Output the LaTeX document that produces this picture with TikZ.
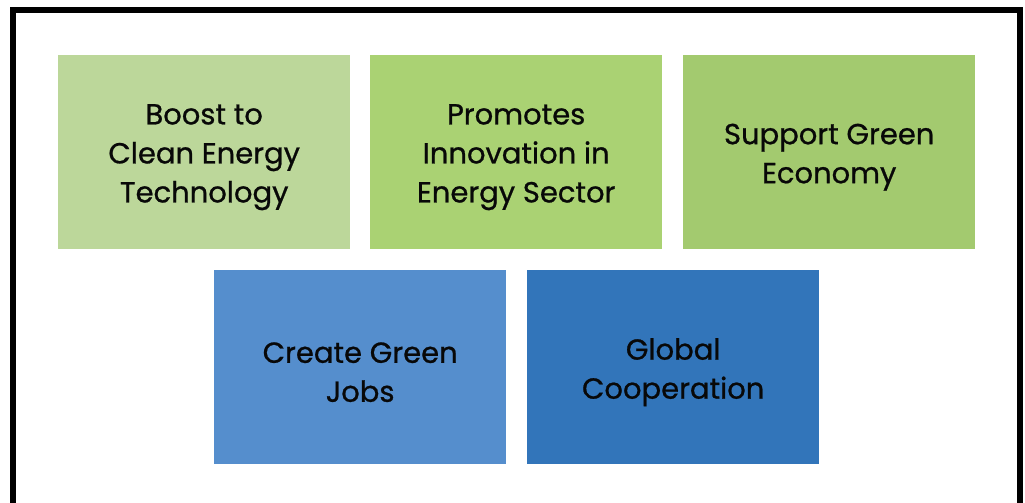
\documentclass[tikz,border=0pt]{standalone}
\usepackage{fontspec}
\setmainfont{Poppins}[FakeBold=0.8]
\definecolor{gA}{RGB}{188,215,154}
\definecolor{gB}{RGB}{170,210,115}
\definecolor{gC}{RGB}{163,202,111}
\definecolor{bA}{RGB}{85,142,205}
\definecolor{bB}{RGB}{50,117,186}
\definecolor{ink}{RGB}{8,8,8}
\tikzset{
  card/.style={minimum width=292pt, minimum height=194pt, inner sep=0pt,
    anchor=north west},
  cardtext/.style={inner sep=0pt, align=center, text=ink,
    font=\fontsize{29}{39}\selectfont, yshift=-5pt}
}
\begin{document}
\begin{tikzpicture}[x=1pt,y=-1pt]
\useasboundingbox (0,0) rectangle (1025,503);
\clip (0,0) rectangle (1025,503);
\fill[white] (0,0) rectangle (1025,503);
% outer frame, running off the bottom edge
\draw[line width=6pt] (13,530) -- (13,10.5) -- (1019.5,10.5) -- (1019.5,530);
% top row
\node[card, fill=gA] (boost) at (58,55) {};
\node[card, fill=gB] (innov) at (370,55) {};
\node[card, fill=gC] (econ) at (683,55) {};
% bottom row
\node[card, fill=bA] (jobs) at (214,270) {};
\node[card, fill=bB] (coop) at (527,270) {};
% captions
\node[cardtext] (boost-t) at (boost.center) {Boost to\\Clean Energy\\Technology};
\node[cardtext] (innov-t) at (innov.center) {Promotes\\Innovation in\\Energy Sector};
\node[cardtext] (econ-t) at (econ.center) {Support Green\\Economy};
\node[cardtext] (jobs-t) at (jobs.center) {Create Green\\Jobs};
\node[cardtext] (coop-t) at (coop.center) {Global\\Cooperation};
\end{tikzpicture}
\end{document}
